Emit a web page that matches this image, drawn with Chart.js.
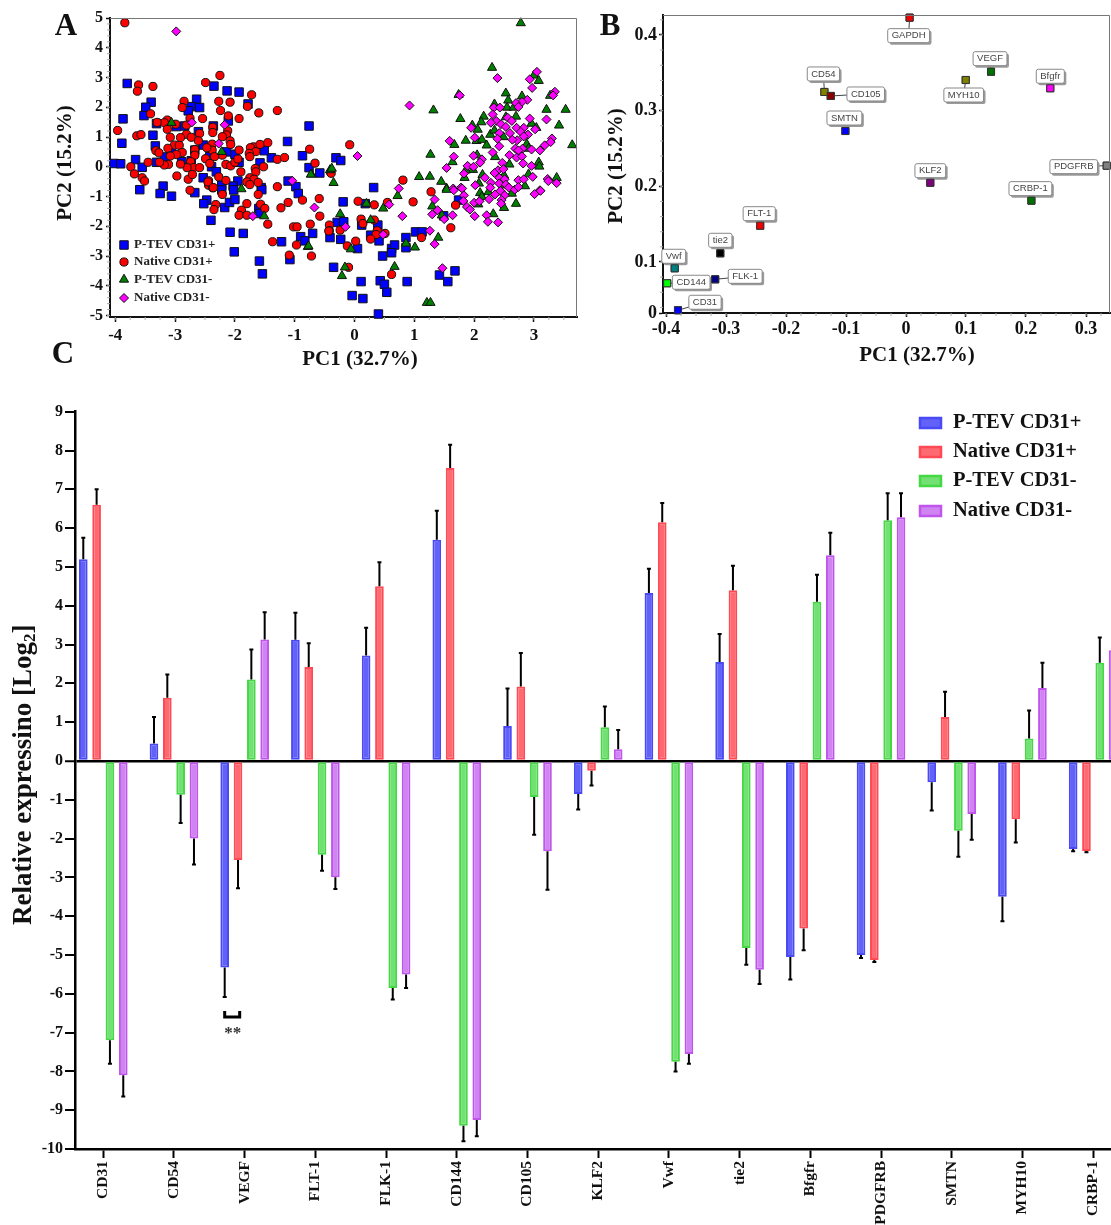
<!DOCTYPE html>
<html lang="en">
<head>
<meta charset="UTF-8">
<title>PCA and relative expression</title>
<script src="https://cdn.jsdelivr.net/npm/chart.js@4/dist/chart.umd.js"></script>
<style>
  html, body { margin: 0; padding: 0; background: #fff; width: 1111px; height: 1225px; overflow: hidden; }
  canvas { position: absolute; display: block; }
</style>
</head>
<body>
<canvas id="panelA" width="590" height="375" style="left:0;top:0"></canvas>
<canvas id="panelB" width="521" height="375" style="left:590px;top:0"></canvas>
<canvas id="panelC" width="1140" height="830" style="left:0;top:395px"></canvas>
<script>
// panel A, samples [PC1, PC2]
const scoresPTevPlus = [[-3.8,2.8],[-3.4,2.17],[-3.49,2],[-3.52,1.72],[-3.87,1.61],[-3.89,.79],[-3.31,1.45],[-3.37,1.06],[-3.33,.7],[-4.02,.11],[-3.91,.1],[-3.66,.24],[-3.55,-.02],[-3.31,.15],[-2.64,2.27],[-2.73,2.02],[-2.59,1.99],[-2.78,1.88],[-2.35,2.71],[-2.13,2.55],[-1.93,2.51],[-1.78,2.11],[-2.11,1.54],[-2.36,1.37],[-2.61,1.18],[-2.98,1.35],[-2.84,1.37],[-2.14,.5],[-2.53,.73],[-2.67,.56],[-1.12,.85],[-.76,1.37],[-.87,.37],[-.76,-.03],[-.58,-.21],[-1.39,.3],[-1.51,.54],[-1.58,.13],[-1.93,.15],[-2,.42],[-1.11,-.48],[-.98,-.67],[-1.56,-.7],[-1.95,-.48],[-2.03,-.65],[-2.22,-.62],[-2.39,0],[-2.31,-.17],[-2.42,.34],[-2.53,-.37],[-2.89,.17],[-2.73,.2],[-3.2,-.65],[-3.59,-.77],[-3.17,.33],[-3.06,.5],[-3.25,-.9],[-3.06,-.99],[-2.67,-.87],[-2.47,-1.12],[-2.52,-1.24],[-2.4,-1.8],[-2.17,-1.37],[-2.09,-1.2],[-2,-1.1],[-2.22,-.78],[-2.02,-.78],[-1.55,-.77],[-1.6,-1.4],[-1.58,-1.57],[-2.08,-2.2],[-1.86,-2.24],[-2.01,-2.86],[-1.59,-3.17],[-1.54,-3.6],[-1.22,-2.52],[-.9,-2.35],[-.83,-2.49],[-.7,-2.24],[-1.08,-3.12],[-.94,-.9],[.32,-.7],[-.19,-1.18],[.18,-1.24],[-.41,-2.38],[-.29,-1.87],[-.18,-1.85],[-.23,-2.44],[.05,-2.75],[.12,-1.96],[.39,-1.96],[.27,-2.3],[.41,-2.49],[.62,-2.75],[.67,-2.63],[.62,-2.89],[.47,-3],[.86,-2.38],[.86,-2.72],[1.02,-2.19],[1.13,-2.19],[-.35,-3.38],[.11,-3.86],[.43,-3.83],[.5,-3.95],[.54,-4.22],[.88,-3.86],[-.04,-4.33],[.14,-4.43],[.4,-4.95],[1.42,-3.64],[1.56,-3.86],[1.68,-3.5],[1.74,-1.12],[1.49,-1.65],[-.31,.3],[-.23,.21]];
const scoresNativePlus = [[-3.84,4.84],[-3.61,2.75],[-3.63,2.54],[-3.37,2.7],[-3.41,1.78],[-3.96,1.22],[-3.64,1.04],[-3.57,1.08],[-3.13,1.57],[-3.18,1.48],[-3.3,1.49],[-2.99,1.43],[-3.13,1.26],[-3.08,.99],[-2.85,2.2],[-2.88,1.99],[-2.49,2.83],[-2.25,3.07],[-2.27,2.2],[-2.08,2.17],[-2.24,1.89],[-2.11,1.71],[-2.54,1.62],[-1.93,1.62],[-1.72,2.42],[-1.79,2.03],[-1.6,1.81],[-1.29,1.89],[-2.75,1.63],[-2.81,1.4],[-2.81,1.09],[-2.73,.99],[-2.59,1.12],[-2.37,1.33],[-2.37,1.15],[-2.12,1.21],[-2.14,1.07],[-2.21,1.01],[-2.61,.87],[-2.91,.98],[-3.01,.73],[-2.93,.72],[-3.12,.62],[-3.32,.54],[-3.27,.47],[-2.88,.48],[-2.98,.41],[-3.08,.36],[-2.67,.58],[-2.67,.39],[-2.38,.76],[-2.38,.56],[-2.47,.64],[-2.08,.87],[-2.07,.75],[-1.93,.56],[-2.21,.39],[-2.34,.34],[-2.49,.27],[-2.42,.11],[-2.74,.17],[-2.69,-.03],[-2.8,-.03],[-2.59,-.03],[-2.91,.09],[-3.11,.08],[-3.18,.06],[-3.26,.15],[-3.45,.15],[-3.74,0],[-3.68,-.24],[-3.55,-.37],[-3.51,-.48],[-2.97,-.31],[-2.78,-.42],[-2.71,-.26],[-2.27,-.34],[-2.44,-.47],[-2.44,-.62],[-2.37,-.71],[-2.15,-.46],[-2.15,.08],[-2.07,.03],[-2,.15],[-1.95,.26],[-1.9,-.17],[-1.69,.67],[-1.74,.64],[-1.65,.51],[-1.76,.45],[-1.58,.75],[-1.45,.81],[-1.75,.34],[-1.29,.25],[-1.17,.31],[-1.52,0],[-1.66,-.06],[-1.65,-.17],[-1.75,-.37],[-1.68,-.42],[-1.8,-.51],[-1.61,-.53],[-1.75,-.6],[-1.29,-.67],[-.75,.59],[-.66,.12],[-.4,-.19],[-2.75,-.79],[-2.45,-.51],[-2.36,-.7],[-2.21,-.93],[-2.32,-1.27],[-2.35,-1.44],[-1.8,-1.24],[-1.89,-1.46],[-1.93,-1.63],[-1.8,-1.63],[-1.61,-.93],[-1.57,-1.26],[-1.5,-1.4],[-1.45,-1.93],[-1.23,-1.38],[-1.11,-1.2],[-.87,-1.12],[-.59,-1.07],[-.58,-1.66],[-1.02,-2.02],[-.96,-2.02],[-.74,-1.93],[-.42,-1.96],[-.42,-2.15],[-1.37,-2.52],[-.97,-2.63],[-1.09,-2.97],[-.72,-3],[-.43,-2.16],[-.24,-2.13],[.06,-1.16],[.33,-1.28],[.55,-1.2],[.98,-1.18],[1.28,-.84],[1.69,-1.29],[1.61,-2.05],[.11,-1.76],[.14,-1.91],[.33,-1.79],[.38,-2.15],[.36,-2.28],[.27,-2.43],[.51,-2.24],[.02,-2.5],[-.12,-2.66],[1.12,-2.38],[-.1,-3.38],[.62,-3.62],[-.08,.74],[-.39,-.22],[.81,-.45]];
const scoresPTevMinus = [[-3.06,1.48],[-2.22,.5],[-1.89,-.75],[-.72,-.25],[-.41,-.11],[-1.51,-1.66],[-.78,-2.69],[2.78,4.83],[2.3,3.33],[3,3.07],[3.08,2.89],[1.74,2.42],[2.53,2.47],[2.8,2.37],[3.27,2.39],[2.57,2.23],[2.34,2.1],[2.55,1.99],[2.66,1.99],[1.32,1.9],[3.53,1.92],[3.21,1.92],[2.16,1.69],[1.77,1.61],[2.7,1.69],[2.53,1.67],[2.12,1.5],[1.97,1.39],[2.06,1.25],[3.42,1.39],[2.96,1.45],[3.04,1.31],[2.27,1.08],[2.34,1.22],[1.86,.88],[1.67,.74],[2.04,.87],[2.13,.91],[2.21,.72],[2.49,1],[2.88,.76],[3.64,.73],[2.91,.61],[1.27,.41],[1.64,.16],[2.05,.39],[2.35,.33],[2.59,.08],[3.08,.15],[3.09,.01],[1.98,-.1],[1.86,-.12],[1.08,-.34],[1.26,-.33],[1.45,-.5],[1.54,-.73],[1.84,-.37],[2.14,-.27],[2.08,-.56],[2.5,-.29],[2.91,-.25],[3.38,-.37],[2.85,-.65],[2.49,-.62],[-.35,-.54],[-.38,-.06],[-.73,-.26],[.72,-.98],[.2,-1.24],[.48,-1.4],[1.3,-1.33],[1.54,-.77],[1.46,-1.63],[2.1,-.88],[2.24,-.85],[2.13,-1.01],[2.63,-.9],[2.7,-1.24],[2.5,-1.38],[2.32,-1.59],[2.07,-1.26],[-.24,-1.59],[.27,-1.79],[-.77,-2.67],[-.06,-2.77],[1.4,-2.38],[1.01,-2.71],[.86,-2.58],[-.16,-3.38],[-.21,-3.67],[.67,-3.36],[1.21,-4.57],[1.27,-4.57]];
const scoresNativeMinus = [[-2.98,4.55],[-2.72,1.49],[-2.17,1.41],[-2.27,.78],[-1.04,-.47],[-1.7,-1.66],[-.67,-1.37],[.92,2.06],[2.39,2.98],[3.05,3.19],[2.93,2.94],[2.97,2.65],[3.35,2.52],[3.32,2.4],[1.76,2.4],[2.89,2.25],[2.8,2.18],[2.7,2.14],[2.74,2.01],[2.33,1.99],[2.43,1.99],[2.31,1.76],[2.56,1.65],[2.37,1.54],[2.28,1.48],[2.93,1.62],[3.21,1.59],[1.95,1.31],[2.45,1.43],[2.53,1.34],[2.63,1.54],[2.71,1.31],[2.83,1.31],[3.02,1.26],[2.42,1.13],[2.6,1.13],[2.78,1.17],[2.9,1.08],[2.83,1.02],[2.72,.89],[2.64,.91],[2.39,.94],[2.01,.98],[1.59,.87],[3.3,.95],[3.28,.83],[3.18,.72],[2.42,.69],[2.69,.61],[2.81,.61],[2.74,.55],[2.96,.58],[3.1,.55],[2.31,.48],[2.59,.39],[2.71,.31],[2.8,.35],[1.66,.34],[1.99,.37],[2.13,.25],[2.1,.14],[2.47,.13],[2.82,.11],[2.96,.03],[1.54,-.04],[1.89,.03],[1.99,0],[1.83,-.23],[2.4,-.12],[2.49,-.08],[2.34,-.21],[2.18,-.37],[2.42,-.37],[2.51,-.42],[2.74,-.45],[2.83,-.42],[2.98,-.34],[3.23,-.41],[3.38,-.55],[2.02,-.62],[2.28,-.54],[2.42,-.56],[2.53,-.6],[.05,.36],[.74,-.73],[1.65,-.73],[1.78,-.7],[3.1,-.79],[1.34,-1.1],[.58,-1.27],[.8,-1.66],[1.3,-1.6],[1.39,-1.46],[1.5,-1.76],[1.64,-1.63],[1.26,-2.15],[1.34,-2.6],[-.15,-2.02],[.48,-2.28],[1.47,-3.41],[1.66,-.79],[1.8,-.73],[1.83,-.96],[1.82,-1.15],[1.88,-1.35],[1.93,-1.44],[2.01,-1.66],[2,-1.21],[2.09,-1.16],[2.25,-1.09],[2.21,-1.63],[2.23,-1.85],[2.4,-1.87],[2.35,-.93],[2.44,-.81],[2.51,-.96],[2.46,-1.12],[2.45,-1.24],[2.27,-.7],[2.58,-.7],[2.68,-.77],[2.74,-.68],[3.01,-.92],[3.11,-.81],[3.24,-.48]];
const groupNames = ['P-TEV CD31+', 'Native CD31+', 'P-TEV CD31-', 'Native CD31-'];
const xTicksA = [-4, -3, -2, -1, 0, 1, 2, 3];
const yTicksA = [5, 4, 3, 2, 1, 0, -1, -2, -3, -4, -5];

// panel B, loadings
const geneNamesB = ['GAPDH','VEGF','Bfgfr','MYH10','CD54','CD105','SMTN','KLF2','CRBP-1','PDGFRB','FLT-1','tie2','Vwf','FLK-1','CD144','CD31'];
const loadingPc1 = [.006,.1417,.2405,.0995,-.136,-.1255,-.101,.0405,.209,.3345,-.243,-.3095,-.3855,-.318,-.398,-.38];
const loadingPc2 = [.4229,.3515,.3296,.3405,.3247,.3194,.2731,.2048,.1811,.2273,.148,.1115,.0917,.0771,.0719,.0362];
const geneColors = ['#f00000','#007000','#ff00ff','#808000','#808000','#8b0000','#0000ff','#800080','#007000','#808080','#f00000','#000000','#008080','#000080','#00ff00','#0000ff'];
const labelDx = [-1,-1,0,-2,-1,35,-1,0,-1,-33,-1,0,-1,30,24,27];
const labelDy = [18,-13,-12,15,-18,-2,-13,-12,-12,1,-12,-13,-12,-3,-1,-8];
const xTicksB = [-.4, -.3, -.2, -.1, 0, .1, .2, .3];
const yTicksB = [.4, .3, .2, .1];

// panel C
const genes = ['CD31','CD54','VEGF','FLT-1','FLK-1','CD144','CD105','KLF2','Vwf','tie2','Bfgfr','PDGFRB','SMTN','MYH10','CRBP-1'];
const pTevPlus = [5.2,.45,-5.32,3.12,2.72,5.7,.9,-.85,4.33,2.55,-5.05,-5,-.55,-3.5,-2.27];
const nativePlus = [6.6,1.63,-2.55,2.42,4.5,7.55,1.92,-.25,6.15,4.4,-4.32,-5.13,1.13,-1.5,-2.32];
const pTevMinus = [-7.2,-.87,2.1,-2.42,-5.85,-9.4,-.93,.87,-7.75,-4.82,4.1,6.2,-1.8,.58,2.53];
const nativeMinus = [-8.1,-2,3.13,-3,-5.5,-9.25,-2.33,.3,-7.55,-5.38,5.3,6.28,-1.37,1.88,2.85];
const errPTevPlus = [.55,.68,.76,.7,.71,.75,.97,.4,.62,.72,.58,.08,.73,.63,.06];
const errNativePlus = [.4,.6,.73,.61,.62,.6,.86,.38,.5,.63,.56,.05,.65,.6,.03];
const errPTevMinus = [.6,.73,.77,.41,.3,.4,.97,.53,.25,.43,.7,.7,.67,.72,.65];
const errNativeMinus = [.55,.67,.7,.3,.35,.42,.99,.5,.25,.37,.58,.62,.66,.65,.65];
const yTicksC = [9,8,7,6,5,4,3,2,1,0,-1,-2,-3,-4,-5,-6,-7,-8,-9,-10];

const SERIF = '"Liberation Serif"';
function font(size) { return 'bold ' + size + 'px ' + SERIF; }

Chart.defaults.animation = false;
Chart.defaults.responsive = false;
Chart.defaults.color = '#111';
Chart.defaults.plugins.legend.display = false;
Chart.defaults.plugins.tooltip.enabled = false;

function toPoints(list) { return list.map(p => ({ x: p[0], y: p[1] })); }

function drawText(ctx, t) {
  ctx.save();
  ctx.translate(t.x, t.y);
  if (t.rot) ctx.rotate(t.rot);
  ctx.font = font(t.size);
  ctx.fillStyle = t.color || '#111';
  ctx.textAlign = t.align || 'center';
  ctx.textBaseline = 'middle';
  ctx.fillText(t.text, 0, 0);
  ctx.restore();
}

// top/right frame lines, the small ticks and the free text of a scatter panel
const framePlugin = {
  id: 'frame',
  afterDraw(chart, args, opts) {
    const { ctx, chartArea: a, scales } = chart;
    ctx.save();
    ctx.strokeStyle = '#777';
    ctx.lineWidth = 1;
    ctx.beginPath();
    ctx.moveTo(a.left, a.top + .5);
    ctx.lineTo(a.right - .5, a.top + .5);
    ctx.lineTo(a.right - .5, a.bottom);
    ctx.stroke();
    ctx.strokeStyle = '#aaa';
    ctx.beginPath();
    for (let v = opts.xMinorFrom; v < scales.x.max; v += opts.xMinor) {
      const px = scales.x.getPixelForValue(v);
      if (px < a.left) continue;
      ctx.moveTo(px, a.bottom);
      ctx.lineTo(px, a.bottom + 3);
    }
    for (let v = opts.yMinorFrom; v < scales.y.max; v += opts.yMinor) {
      const py = scales.y.getPixelForValue(v);
      if (py > a.bottom) continue;
      ctx.moveTo(a.left, py);
      ctx.lineTo(a.left - 3, py);
    }
    ctx.stroke();
    ctx.restore();
    opts.texts.forEach(t => drawText(ctx, t));
  }
};

const groupStyles = [
  { pointStyle: 'rect', radius: 6, backgroundColor: '#0000ff' },
  { pointStyle: 'circle', radius: 4.1, backgroundColor: '#ff0000' },
  { pointStyle: 'triangle', radius: 5.3, backgroundColor: '#008000' },
  { pointStyle: 'rectRot', radius: 4.5, backgroundColor: '#ff00ff' }
];

const scatterLegend = {
  id: 'scatterLegend',
  afterDraw(chart) {
    const ctx = chart.ctx;
    const rows = [245, 262, 279.5, 298];
    groupNames.forEach((name, i) => {
      const s = groupStyles[i];
      ctx.save();
      ctx.fillStyle = s.backgroundColor;
      ctx.strokeStyle = '#111';
      ctx.lineWidth = 1;
      Chart.helpers.drawPoint(ctx, { pointStyle: s.pointStyle, radius: s.radius, borderWidth: 1 }, 124, rows[i]);
      ctx.restore();
      drawText(ctx, { text: name, x: 134, y: rows[i], size: 13, align: 'left', color: '#222' });
    });
  }
};

new Chart(document.getElementById('panelA'), {
  type: 'scatter',
  data: {
    datasets: [scoresPTevPlus, scoresNativePlus, scoresPTevMinus, scoresNativeMinus].map((s, i) => ({
      label: groupNames[i],
      data: toPoints(s),
      order: 4 - i,
      pointStyle: groupStyles[i].pointStyle,
      pointRadius: groupStyles[i].radius,
      backgroundColor: groupStyles[i].backgroundColor,
      borderColor: '#111',
      borderWidth: 1
    }))
  },
  options: {
    layout: { autoPadding: false, padding: { top: 18, right: 13, left: 0, bottom: 0 } },
    clip: false,
    scales: {
      x: {
        type: 'linear', min: -4.088, max: 3.72,
        afterBuildTicks: s => { s.ticks = xTicksA.map(v => ({ value: v })); },
        afterFit: s => { s.height = 58; },
        grid: { drawOnChartArea: false, tickLength: 5, tickColor: '#111', tickWidth: 1.5 },
        border: { color: '#111', width: 2 },
        ticks: { autoSkip: false, maxRotation: 0, padding: 3, font: { family: SERIF, weight: 'bold', size: 17 } }
      },
      y: {
        min: -5.05, max: 5,
        afterBuildTicks: s => { s.ticks = yTicksA.map(v => ({ value: v })); },
        afterFit: s => { s.width = 110; },
        grid: { drawOnChartArea: false, tickLength: 4, tickColor: '#111', tickWidth: 1.5 },
        border: { color: '#111', width: 2 },
        ticks: { autoSkip: false, padding: 3, font: { family: SERIF, weight: 'bold', size: 16 } }
      }
    },
    plugins: {
      frame: {
        xMinorFrom: -4, xMinor: .25, yMinorFrom: -5, yMinor: .2,
        texts: [
          { text: 'A', x: 66, y: 27, size: 31 },
          { text: 'C', x: 63, y: 355, size: 31 },
          { text: 'PC1 (32.7%)', x: 360, y: 360, size: 21 },
          { text: 'PC2 (15.2%)', x: 66, y: 163, size: 21, rot: -Math.PI / 2 }
        ]
      }
    }
  },
  plugins: [framePlugin, scatterLegend]
});

// the boxed gene names next to the loading markers
const geneLabels = {
  id: 'geneLabels',
  afterDatasetsDraw(chart) {
    const ctx = chart.ctx;
    const points = chart.getDatasetMeta(0).data;
    ctx.save();
    ctx.font = '9.5px "Liberation Sans"';
    ctx.textAlign = 'center';
    ctx.textBaseline = 'middle';
    points.forEach((pt, i) => {
      const cx = pt.x + labelDx[i], cy = pt.y + labelDy[i];
      const w = ctx.measureText(geneNamesB[i]).width + 8, h = 14;
      ctx.strokeStyle = '#444';
      ctx.lineWidth = 1;
      ctx.beginPath();
      ctx.moveTo(pt.x, pt.y);
      ctx.lineTo(cx, cy);
      ctx.stroke();
      ctx.fillStyle = '#9a9a9a';
      ctx.beginPath();
      ctx.roundRect(cx - w / 2 + 2, cy - h / 2 + 2, w, h, 2);
      ctx.fill();
      ctx.fillStyle = '#fff';
      ctx.strokeStyle = '#888';
      ctx.beginPath();
      ctx.roundRect(cx - w / 2, cy - h / 2, w, h, 2);
      ctx.fill();
      ctx.stroke();
      ctx.fillStyle = '#444';
      ctx.fillText(geneNamesB[i], cx, cy);
    });
    ctx.restore();
    points.forEach(pt => pt.draw(ctx, chart.chartArea));
  }
};

new Chart(document.getElementById('panelB'), {
  type: 'scatter',
  data: {
    datasets: [{
      label: 'Loadings',
      data: loadingPc1.map((v, i) => ({ x: v, y: loadingPc2[i] })),
      pointStyle: 'rect',
      pointRadius: 5,
      backgroundColor: geneColors,
      borderColor: '#333',
      borderWidth: 1
    }]
  },
  options: {
    layout: { autoPadding: false, padding: { top: 15, right: 1, left: 0, bottom: 0 } },
    clip: false,
    scales: {
      x: {
        type: 'linear', min: -.405, max: .34,
        afterBuildTicks: s => { s.ticks = xTicksB.map(v => ({ value: v })); },
        afterFit: s => { s.height = 62; s.paddingLeft = 0; s.paddingRight = 0; },
        grid: { drawOnChartArea: false, tickLength: 4, tickColor: '#111', tickWidth: 1.5 },
        border: { color: '#111', width: 2 },
        ticks: { autoSkip: false, maxRotation: 0, padding: 2, font: { family: SERIF, weight: 'bold', size: 18 },
          callback: v => v === 0 ? '0' : v.toFixed(1) }
      },
      y: {
        min: .0326, max: .4264,
        afterBuildTicks: s => { s.ticks = [s.min].concat(yTicksB).map(v => ({ value: v })); },
        afterFit: s => { s.width = 73; s.paddingTop = 0; s.paddingBottom = 0; },
        grid: { drawOnChartArea: false, tickLength: 4, tickColor: '#111', tickWidth: 1.5 },
        border: { color: '#111', width: 2 },
        ticks: { autoSkip: false, padding: 2, font: { family: SERIF, weight: 'bold', size: 18 },
          callback: v => yTicksB.includes(v) ? v.toFixed(1) : '0' }
      }
    },
    plugins: {
      frame: {
        xMinorFrom: -.4, xMinor: .025, yMinorFrom: .04, yMinor: .02,
        texts: [
          { text: 'B', x: 20, y: 27, size: 31 },
          { text: 'PC1 (32.7%)', x: 327, y: 356, size: 21 },
          { text: 'PC2 (15.2%)', x: 27, y: 166, size: 21, rot: -Math.PI / 2 }
        ]
      }
    }
  },
  plugins: [framePlugin, geneLabels]
});

const barFill = ['#6262f8', '#ff6a72', '#72e072', '#d084f2'];
const barEdge = ['#4a4af5', '#ff4a55', '#45d845', '#c055ee'];
const barSeries = [pTevPlus, nativePlus, pTevMinus, nativeMinus];
const barErrors = [errPTevPlus, errNativePlus, errPTevMinus, errNativeMinus];

const errorBars = {
  id: 'errorBars',
  afterDatasetsDraw(chart) {
    const { ctx, scales } = chart;
    ctx.save();
    ctx.strokeStyle = '#000';
    barSeries.forEach((series, d) => {
      chart.getDatasetMeta(d).data.forEach((bar, i) => {
        const end = series[i] + Math.sign(series[i]) * barErrors[d][i];
        const py = scales.y.getPixelForValue(end);
        ctx.lineWidth = 2;
        ctx.beginPath();
        ctx.moveTo(bar.x, bar.y);
        ctx.lineTo(bar.x, py);
        ctx.moveTo(bar.x - 2, py);
        ctx.lineTo(bar.x + 2, py);
        ctx.stroke();
      });
    });
    ctx.restore();
  }
};

const sideTexts = {
  id: 'sideTexts',
  afterDraw(chart) {
    const { ctx, scales } = chart;
    // legend, top right
    const rows = [28, 57, 86, 116];
    groupNames.forEach((name, i) => {
      ctx.save();
      ctx.fillStyle = barFill[i];
      ctx.fillRect(920, rows[i] - 5, 21, 10);
      ctx.strokeStyle = barEdge[i];
      ctx.lineWidth = 2.5;
      ctx.strokeRect(920, rows[i] - 5, 21, 10);
      ctx.restore();
      drawText(ctx, { text: name, x: 953, y: rows[i], size: 20.5, align: 'left' });
    });
    // significance mark under VEGF
    const bx = scales.x.getPixelForValue(2);
    const by = scales.y.getPixelForValue(-6.6);
    ctx.save();
    ctx.strokeStyle = '#000';
    ctx.lineWidth = 3;
    ctx.beginPath();
    ctx.moveTo(bx - 20, by - 6);
    ctx.lineTo(bx - 20, by);
    ctx.lineTo(bx - 5, by);
    ctx.lineTo(bx - 5, by - 6);
    ctx.stroke();
    ctx.restore();
    drawText(ctx, { text: '**', x: bx - 12, y: by + 17, size: 17, color: '#333' });
    // y title with the subscript in Log2
    ctx.save();
    ctx.translate(22, 380);
    ctx.rotate(-Math.PI / 2);
    ctx.fillStyle = '#111';
    ctx.textBaseline = 'alphabetic';
    ctx.textAlign = 'left';
    ctx.font = font(27);
    const head = 'Relative expressino [Log';
    const total = ctx.measureText(head).width;
    ctx.fillText(head, -150, 9);
    ctx.font = font(17);
    ctx.fillText('2', -150 + total, 13);
    const sub = ctx.measureText('2').width;
    ctx.font = font(27);
    ctx.fillText(']', -150 + total + sub, 9);
    ctx.restore();
  }
};

new Chart(document.getElementById('panelC'), {
  type: 'bar',
  data: {
    datasets: barSeries.map((series, d) => ({
      label: groupNames[d],
      data: series.map((v, i) => ({ x: i, y: v })),
      backgroundColor: barFill[d],
      borderColor: barEdge[d],
      borderWidth: 2,
      borderSkipped: false,
      categoryPercentage: .754,
      barPercentage: .65
    }))
  },
  options: {
    layout: { padding: { top: 16.7, right: 0, left: 0, bottom: 0 } },
    scales: {
      x: {
        type: 'linear', min: -.4, max: 14.663, offset: false,
        afterBuildTicks: s => { s.ticks = genes.map((g, i) => ({ value: i })); },
        afterFit: s => { s.height = 76; },
        grid: { offset: false, drawOnChartArea: false, tickLength: 9, tickColor: '#000', tickWidth: 2 },
        border: { color: '#000', width: 2.5 },
        ticks: { autoSkip: false, minRotation: 90, maxRotation: 90, padding: 3,
          font: { family: SERIF, weight: 'bold', size: 15.5 }, callback: v => genes[v] }
      },
      y: {
        min: -10, max: 9,
        afterBuildTicks: s => { s.ticks = yTicksC.map(v => ({ value: v })); },
        afterFit: s => { s.width = 75; },
        grid: {
          color: c => c.tick && c.tick.value === 0 ? '#000' : 'transparent',
          lineWidth: c => c.tick && c.tick.value === 0 ? 2.5 : 0,
          tickLength: 10, tickColor: '#000', tickWidth: 2
        },
        border: { color: '#000', width: 2.5 },
        ticks: { autoSkip: false, padding: 2, font: { family: SERIF, weight: 'bold', size: 16 } }
      }
    }
  },
  plugins: [errorBars, sideTexts]
});
</script>
</body>
</html>
